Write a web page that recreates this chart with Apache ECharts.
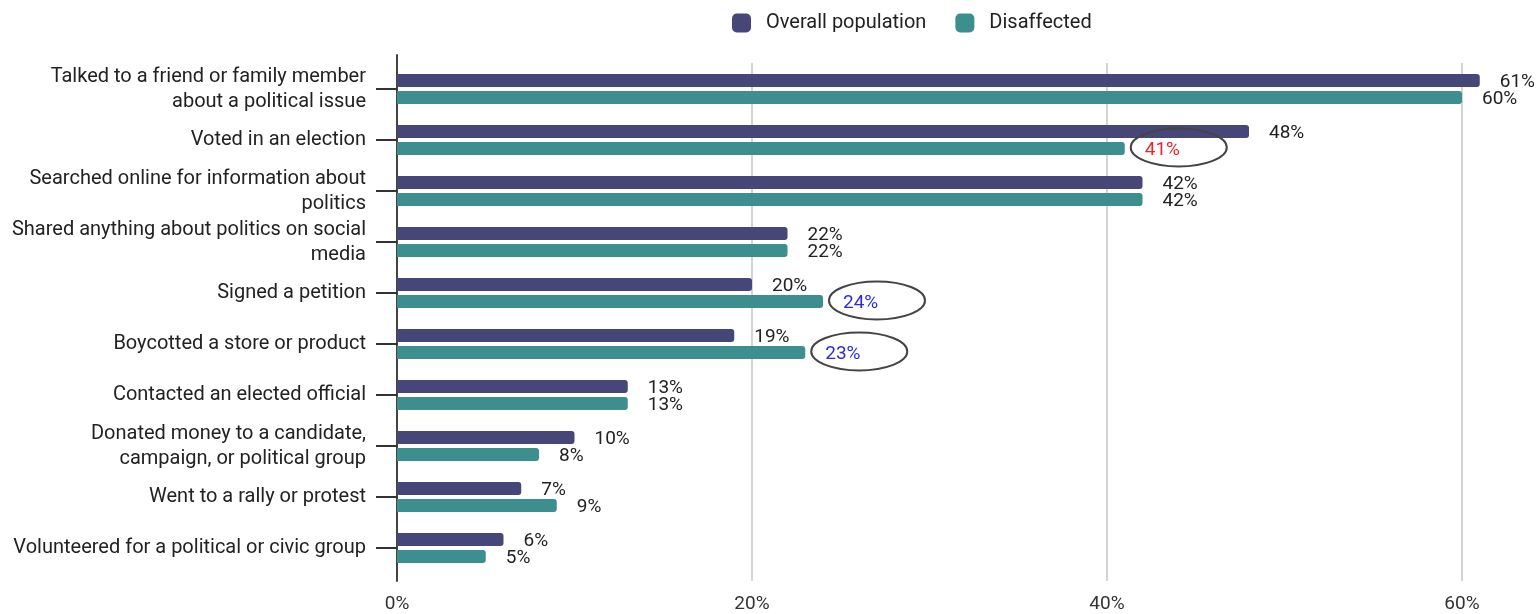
<!DOCTYPE html>
<html>
<head>
<meta charset="utf-8">
<script src="https://cdn.jsdelivr.net/npm/echarts@6/dist/echarts.min.js"></script>
<style>
  html, body { margin: 0; padding: 0; background: #fff; }
  #chart { width: 1539px; height: 614px; }
</style>
</head>
<body>
<div id="chart"></div>
<script>
// Political activities, share of respondents (%)
const categories = [
  'Talked to a friend or family member\nabout a political issue',
  'Voted in an election',
  'Searched online for information about\npolitics',
  'Shared anything about politics on social\nmedia',
  'Signed a petition',
  'Boycotted a store or product',
  'Contacted an elected official',
  'Donated money to a candidate,\ncampaign, or political group',
  'Went to a rally or protest',
  'Volunteered for a political or civic group'
];
const overall     = [61, 48, 42, 22, 20, 19, 13, 10, 7, 6];
const disaffected = [60, 41, 42, 22, 24, 23, 13, 8, 9, 5];
const seriesNames = ['Overall population', 'Disaffected'];
const xTicks = [0, 20, 40, 60];

// Disaffected values called out with coloured text and a ring
const callouts = [
  { index: 1, color: '#e8262b' },
  { index: 4, color: '#2b2be0' },
  { index: 5, color: '#2b2be0' }
];

const FONT = 'Roboto, "Noto Sans", sans-serif';
const COLORS = ['#474679', '#3d8e8e'];

const chart = echarts.init(document.getElementById('chart'), null, { renderer: 'canvas' });

const disaffectedData = disaffected.map((v, i) => {
  const c = callouts.find(o => o.index === i);
  return c ? { value: v, label: { color: c.color } } : v;
});

const labelStyle = {
  show: true,
  position: 'right',
  distance: 20,
  offset: [0, 2],
  formatter: '{c}%',
  fontFamily: FONT,
  fontSize: 19,
  color: '#222'
};

const gridBox = { left: 397, right: 77 };

chart.setOption({
  animation: false,
  color: COLORS,
  legend: {
    data: seriesNames,
    left: 727,
    top: 8,
    icon: 'roundRect',
    itemWidth: 19,
    itemHeight: 19,
    itemGap: 29,
    textStyle: { fontFamily: FONT, fontSize: 20, color: '#222', padding: [0, 0, 0, 10] }
  },
  grid: [
    // bars
    Object.assign({ top: 63.5, height: 510 }, gridBox),
    // vertical gridlines and percentage labels
    Object.assign({ top: 63, bottom: 33 }, gridBox),
    // baseline
    Object.assign({ top: 55, bottom: 33 }, gridBox)
  ],
  xAxis: [
    { gridIndex: 0, type: 'value', min: xTicks[0], max: xTicks[xTicks.length - 1], interval: 20, show: false },
    {
      gridIndex: 1, type: 'value', min: xTicks[0], max: xTicks[xTicks.length - 1], interval: 20,
      axisLine: { show: false },
      axisTick: { show: false },
      splitLine: { show: true, lineStyle: { color: '#d4d4d4', width: 2 } },
      axisLabel: { formatter: '{value}%', margin: 14, fontFamily: FONT, fontSize: 19, color: '#333' }
    },
    { gridIndex: 2, type: 'value', min: 0, max: 1, show: false }
  ],
  yAxis: [
    {
      gridIndex: 0, type: 'category', data: categories, inverse: true,
      axisLine: { show: false },
      axisTick: { show: true, alignWithLabel: true, length: 21, lineStyle: { color: '#333', width: 2 } },
      splitLine: { show: false },
      axisLabel: { margin: 31, fontFamily: FONT, fontSize: 20, color: '#222', lineHeight: 25, align: 'right' }
    },
    { gridIndex: 1, type: 'value', show: false },
    {
      gridIndex: 2, type: 'value', min: 0, max: 1,
      axisLine: { show: true, onZero: false, lineStyle: { color: '#444', width: 2 } },
      axisTick: { show: false },
      axisLabel: { show: false },
      splitLine: { show: false }
    }
  ],
  series: [
    {
      name: seriesNames[0], type: 'bar', xAxisIndex: 0, yAxisIndex: 0,
      data: overall, barWidth: 13, barGap: '30%', clip: false,
      itemStyle: { color: COLORS[0], borderRadius: [0, 3, 3, 0] },
      label: labelStyle
    },
    {
      name: seriesNames[1], type: 'bar', xAxisIndex: 0, yAxisIndex: 0,
      data: disaffectedData, barWidth: 13, barGap: '30%', clip: false,
      itemStyle: { color: COLORS[1], borderRadius: [0, 3, 3, 0] },
      label: labelStyle
    }
  ]
});

// Rings around the called-out labels, placed from the bar layout
const barData = chart.getModel().getSeriesByIndex(1).getData();
chart.setOption({
  graphic: callouts.map(c => {
    const l = barData.getItemLayout(c.index);
    const endX = l.x + l.width;
    const midY = l.y + l.height / 2;
    return {
      type: 'ellipse',
      shape: { cx: endX + 54, cy: midY - 1, rx: 48, ry: 19 },
      style: { fill: 'none', stroke: '#444', lineWidth: 2 },
      silent: true,
      z: 10
    };
  })
});
</script>
</body>
</html>
